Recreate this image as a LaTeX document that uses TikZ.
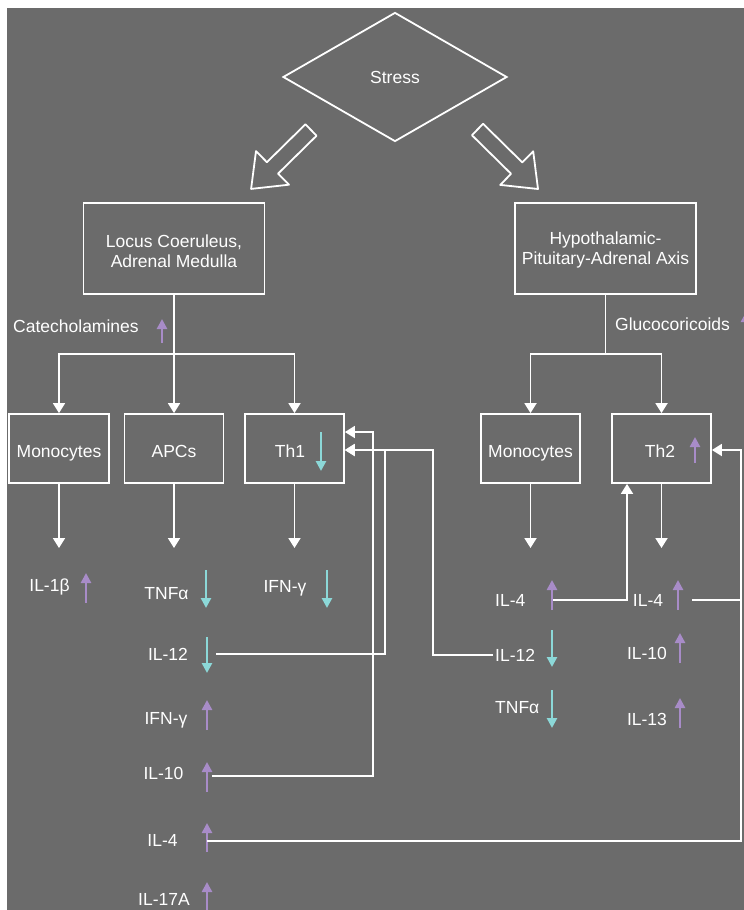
\documentclass[tikz,border=0pt]{standalone}
\usepackage{fontspec}
\setmainfont{Liberation Sans}
\usetikzlibrary{shapes.geometric,arrows.meta}
\definecolor{bg}{RGB}{107,107,107}
\definecolor{upc}{RGB}{168,140,200}
\definecolor{dnc}{RGB}{140,216,216}
\begin{document}
\begin{tikzpicture}[x=1pt,y=-1pt,
  wl/.style={white,line width=1.8pt},
  box/.style={draw=white,line width=1.8pt,rectangle,inner sep=0pt},
  lbl/.style={text=white,font=\fontsize{17.5}{20}\selectfont,inner sep=0pt,text height=12.6pt,text depth=0pt},
  mlbl/.style={text=white,font=\fontsize{17.5}{20}\selectfont,inner sep=0pt,align=center},
  tip/.style={-{Triangle[width=12pt,length=10pt]}},
  upa/.style={upc,line width=2.5pt,-{Triangle[width=10pt,length=10pt]}},
  dna/.style={dnc,line width=2.5pt,-{Triangle[width=10pt,length=10pt]}},
  hollow/.style={white,line width=1.8pt,line join=round}
]
\useasboundingbox (0,0) rectangle (744,910);
\clip (0,0) rectangle (744,910);
\fill[white] (0,0) rectangle (744,910);
\fill[bg] (7,8) rectangle (744,910);

% Stress
\node[diamond,draw=white,line width=1.8pt,minimum width=224pt,minimum height=129pt,inner sep=0pt,
      text=white,font=\fontsize{17.5}{20}\selectfont,text height=12.6pt,text depth=0pt] (stress) at (395,77) {Stress};

% hollow arrows
\draw[hollow] (305.4,124.3) -- (266.9,162.2) -- (256,151.1) -- (251.1,188.9) -- (289,184.7) -- (278.1,173.6) -- (316.6,135.7) -- cycle;
\draw[hollow] (483.1,123.8) -- (522.3,162.4) -- (533.2,151.3) -- (538,189) -- (500.2,184.9) -- (511.1,173.8) -- (471.9,135.2) -- cycle;

% upper boxes
\node[box,minimum width=181pt,minimum height=91pt] (lc) at (174,248.5) {};
\node[mlbl] (lct) at (174,251) {Locus Coeruleus,\\Adrenal Medulla};
\node[box,minimum width=181pt,minimum height=91pt] (hpa) at (605.5,248.5) {};
\node[mlbl] (hpat) at (605.5,250) {Hypothalamic-\\Pituitary-Adrenal Axis};

% side labels
\node[lbl,anchor=west] (cat) at (13,326) {Catecholamines};
\draw[upa] (162,343) -- (162,319);
\node[lbl,anchor=west] (glu) at (615,324) {Glucocoricoids};
\draw[upa] (746,336) -- (746,312);

% lower boxes
\node[box,minimum width=100pt,minimum height=69pt] (mono1) at (59,448.5) {};
\node[lbl] (mono1t) at (59,451) {Monocytes};
\node[box,minimum width=99pt,minimum height=69pt] (apcs) at (174,448.5) {};
\node[lbl] (apcst) at (174,451) {APCs};
\node[box,minimum width=99pt,minimum height=69pt] (th1) at (294.5,448.5) {};
\node[lbl] (th1t) at (290,451) {Th1};
\draw[dna] (321,432) -- (321,471);
\node[box,minimum width=99pt,minimum height=69pt] (mono2) at (530.5,448.5) {};
\node[lbl] (mono2t) at (530.5,451) {Monocytes};
\node[box,minimum width=99pt,minimum height=69pt] (th2) at (661.5,448.5) {};
\node[lbl] (th2t) at (660,451) {Th2};
\draw[upa] (695,463) -- (695,437);

% branching
\coordinate (lj) at (174,354);
\draw[wl] (lc.south) -- (lj);
\draw[wl,tip] (lj) -| (mono1.north);
\draw[wl,tip] (lj) -- (apcs.north);
\draw[wl,tip] (lj) -| (th1.north);
\coordinate (rj) at (605.5,354);
\draw[wl] (hpa.south) -- (rj);
\draw[wl,tip] (rj) -| (mono2.north);
\draw[wl,tip] (rj) -| (th2.north);

% down arrows
\coordinate (e1) at (59,548);
\coordinate (e2) at (174,548);
\coordinate (e3) at (294.5,548);
\coordinate (e4) at (530.5,548);
\coordinate (e5) at (661.5,548);
\draw[wl,tip] (mono1.south) -- (e1);
\draw[wl,tip] (apcs.south) -- (e2);
\draw[wl,tip] (th1.south) -- (e3);
\draw[wl,tip] (mono2.south) -- (e4);
\draw[wl,tip] (th2.south) -- (e5);

% left cytokines
\node[lbl] (il1b) at (49.5,585) {IL-1β};
\draw[upa] (86,603) -- (86,573);
\node[lbl] (tnfa1) at (166.5,593) {TNFα};
\draw[dna] (206,570) -- (206,608);
\node[lbl] (ifng1) at (285,586) {IFN-γ};
\draw[dna] (327,570) -- (327,608);
\node[lbl] (il12a) at (168,654) {IL-12};
\draw[dna] (207,637) -- (207,673);
\node[lbl] (ifng2) at (166,718) {IFN-γ};
\draw[upa] (207,730) -- (207,700);
\node[lbl] (il10a) at (163.5,773) {IL-10};
\draw[upa] (207,792) -- (207,762);
\node[lbl] (il4a) at (162.5,840) {IL-4};
\draw[upa] (207,852) -- (207,823);
\node[lbl] (il17) at (164,899) {IL-17A};
\draw[upa] (207,914) -- (207,882);

% right cytokines
\node[lbl,anchor=west] (il4b) at (495,600) {IL-4};
\draw[upa] (552,610) -- (552,580);
\node[lbl,anchor=west] (il12b) at (495,655) {IL-12};
\draw[dna] (552,630) -- (552,667);
\node[lbl,anchor=west] (tnfa2) at (495,707) {TNFα};
\draw[dna] (552,690) -- (552,728);
\node[lbl] (il4c) at (648,600) {IL-4};
\draw[upa] (678,610) -- (678,580);
\node[lbl] (il10b) at (647,653) {IL-10};
\draw[upa] (680,663) -- (680,633);
\node[lbl] (il13) at (647,719) {IL-13};
\draw[upa] (680,728) -- (680,698);

% feedback connectors
\coordinate (s10) at (212,776);
\coordinate (s12) at (216,654);
\coordinate (s4a) at (207,841);
\coordinate (s4b) at (553,600);
\coordinate (s4c) at (692,600);
\coordinate (rr) at (741,600);
\draw[wl,tip] (s10) -- (373,776) -- (373,432) -- ([yshift=16.5pt]th1.east);
\draw[wl,tip] (s12) -- (385,654) -- (385,450) -- ([yshift=-1.5pt]th1.east);
\draw[wl,tip] ([xshift=-2pt]il12b.west) -- (433,655) -- (433,450) -- ([yshift=-1.5pt]th1.east);
\draw[wl,tip] (s4a) -- (741,841) -- (741,450) -- ([yshift=-1.5pt]th2.east);
\draw[wl] (s4c) -- (rr);
\draw[wl,tip] (s4b) -- (627,600) -- ([xshift=-34.5pt]th2.south);
\end{tikzpicture}
\end{document}
